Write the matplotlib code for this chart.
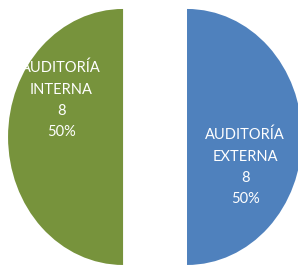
import matplotlib
matplotlib.use('Agg')
from matplotlib import pyplot as plt

labels = ['AUDITORÍA\nINTERNA', 'AUDITORÍA\nEXTERNA']
counts = [8, 8]
colors = ['#77933C', '#4F81BD']
text_pos = [(-0.817, 0.289), (0.783, -0.234)]

total = sum(counts)

fig = plt.figure(figsize=(2.98, 2.66), dpi=100)
ax = fig.add_axes([0, 0, 1, 1])

ax.pie(counts, colors=colors, startangle=90, counterclock=True,
       explode=[0.278, 0.278], radius=1.0,
       wedgeprops={'linewidth': 0})

for i in range(len(counts)):
    pct = round(100 * counts[i] / total)
    txt = labels[i] + '\n' + str(counts[i]) + '\n' + str(pct) + '%'
    ax.text(text_pos[i][0], text_pos[i][1], txt, color='white',
            ha='center', va='center', fontsize=10.5, family='Lato',
            linespacing=1.65)

ax.set_aspect('auto')
ax.set_xlim(-1.348, 1.243)
ax.set_ylim(-1.008, 1.070)
ax.axis('off')

fig.savefig('out.png', dpi=100)
